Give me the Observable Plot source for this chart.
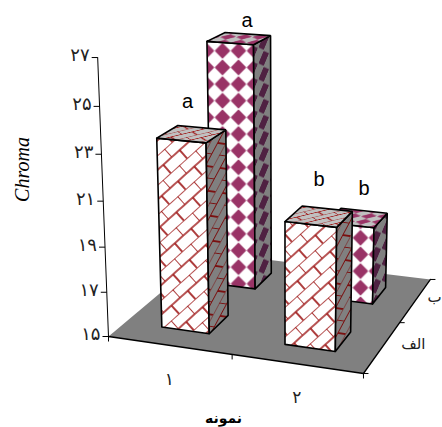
<!DOCTYPE html>
<html>
<head>
<meta charset="utf-8">
<script src="https://cdn.jsdelivr.net/npm/d3@7"></script>
<script src="https://cdn.jsdelivr.net/npm/@observablehq/plot@0.6"></script>
<style>html,body{margin:0;padding:0;background:#fff}svg{display:block}</style>
</head>
<body>
<div id="chart"></div>
<script>
// ---- data ----
const samples = ["۱", "۲"];
const seriesNames = ["الف", "ب"];
const valuesAlef = [23.4, 20.4];
const valuesBe = [26.4, 18.6];
const lettersAlef = ["a", "b"];
const lettersBe = ["a", "b"];
const tickValues = [15, 17, 19, 21, 23, 25, 27];
const tickLabels = ["۱۵", "۱۷", "۱۹", "۲۱", "۲۳", "۲۵", "۲۷"];
const yTitle = "Chroma";
const xTitle = "نمونه";

// ---- view: a perspective camera for the floor and the value axis ----
const base = 15;
const cam = {a: 233.7, b: 134.6, c: 108, d: 15.14, e: -42.1, f: 336, g: -0.0586, h: 0.1664, vx: 285, vy: 4900, k: 0.0048};
function project(u, v, value) {
  const w = value - base;
  const q = 1 + cam.g * u + cam.h * v - cam.k * w;
  return {
    x: (cam.a * u + cam.b * v + cam.c - cam.k * cam.vx * w) / q,
    y: (cam.d * u + cam.e * v + cam.f - cam.k * cam.vy * w) / q
  };
}
const half = 0.098;
const center = i => 0.25 + i * 0.5;
const X = d => d.x, Y = d => d.y;

const poly = pts => { const p = pts.map(a => project(...a)); p.push(p[0]); return p; };
function barFaces(i, j, value, kind, front) {
  const u0 = center(i) - half, u1 = center(i) + half;
  const v0 = center(j) - half, v1 = center(j) + half;
  return [
    {pts: poly([[u0, v0, base], [u1, v0, base], [u1, v0, value], [u0, v0, value]]), fill: `url(#${front})`},
    {pts: poly([[u1, v0, base], [u1, v1, base], [u1, v1, value], [u1, v0, value]]), fill: `url(#${kind}Side)`},
    {pts: poly([[u0, v0, value], [u1, v0, value], [u1, v1, value], [u0, v1, value]]), fill: `url(#${kind}Top)`}
  ];
}
const faceMarks = faces => faces.map(f => Plot.line(f.pts, {x: X, y: Y, fill: f.fill, stroke: "#000", strokeWidth: 1.6, strokeLinejoin: "miter"}));

// floor
const floor = poly([[0, 0, base], [1, 0, base], [1, 1, base], [0, 1, base]]);
const edge = a => a.map(p => project(...p));

// ticks
const yTicks = tickValues.map((t, i) => ({...project(0, 0, t), label: tickLabels[i]}));
const uTicks = [0, 0.5, 1].map(u => project(u, 0, base));
const vTicks = [0, 0.5, 1].map(v => project(1, v, base));

const sampleLabels = samples.map((s, i) => ({...project(center(i), 0, base), label: s}));
const seriesLabels = seriesNames.map((s, j) => ({...project(1, center(j), base), label: s, dx: j ? 19 : 31}));

const letters = [
  {...project(center(0), center(0), valuesAlef[0]), label: lettersAlef[0], dx: -4, dy: -32},
  {...project(center(0), center(1), valuesBe[0]), label: lettersBe[0], dx: 8, dy: -18},
  {...project(center(1), center(0), valuesAlef[1]), label: lettersAlef[1], dx: 0, dy: -37},
  {...project(center(1), center(1), valuesBe[1]), label: lettersBe[1], dx: 7, dy: -29}
];

const axisFont = "'DejaVu Sans'";

const plot = Plot.plot({
  width: 442, height: 427,
  margin: 0,
  style: {background: "#fff", overflow: "hidden"},
  x: {domain: [0, 442], range: [0, 442], axis: null},
  y: {domain: [0, 427], range: [0, 427], axis: null},
  marks: [
    Plot.line(floor, {x: X, y: Y, fill: "#808080", stroke: "none"}),
    Plot.line(edge([[0, 0, base], [1, 0, base], [1, 1, base]]), {x: X, y: Y, stroke: "#000", strokeWidth: 1.3}),
    Plot.line(edge([[0, 0, base], [0, 0, 27]]), {x: X, y: Y, stroke: "#000", strokeWidth: 1}),
    Plot.link(yTicks, {x1: d => d.x - 6, x2: X, y1: Y, y2: Y, stroke: "#000", strokeWidth: 1}),
    Plot.link(uTicks, {x1: X, x2: X, y1: Y, y2: d => d.y + 5, stroke: "#000", strokeWidth: 1}),
    Plot.link(vTicks, {x1: X, x2: d => d.x + 5, y1: Y, y2: Y, stroke: "#000", strokeWidth: 1}),
    // back row, then front row
    ...faceMarks(barFaces(0, 1, valuesBe[0], "diamond", "diamondFrontA")),
    ...faceMarks(barFaces(1, 1, valuesBe[1], "diamond", "diamondFrontB")),
    ...faceMarks(barFaces(0, 0, valuesAlef[0], "brick", "brickFront")),
    ...faceMarks(barFaces(1, 0, valuesAlef[1], "brick", "brickFront")),
    Plot.text(yTicks, {x: d => d.x - 8, y: d => d.y - 2, text: "label", textAnchor: "end", fontSize: 18, fontFamily: axisFont, fill: "#222"}),
    Plot.text(sampleLabels, {x: X, y: d => d.y + 34, text: "label", fontSize: 17, fontFamily: axisFont, fill: "#222"}),
    Plot.text(seriesLabels, {x: d => d.x + d.dx, y: d => d.y - 3, text: "label", fontSize: 15, fontFamily: axisFont, fill: "#222"}),
    Plot.text(letters, {x: d => d.x + d.dx, y: d => d.y + d.dy, text: "label", fontSize: 20, fontFamily: "'Liberation Sans'", fill: "#000"}),
    Plot.text([yTitle], {x: () => 22, y: () => 169, text: d => d, rotate: -90, fontSize: 20, fontStyle: "italic", fontFamily: "'Liberation Serif'", fill: "#000"}),
    Plot.text([xTitle], {x: () => 223, y: () => 418, text: d => d, fontSize: 14, fontWeight: "bold", fontFamily: "'DejaVu Sans'", fill: "#000"})
  ]
});

const brickPath = "M0 0H22M0 11H22M0 0V11M11 11V22";
const brick = (id, bg, stroke, tf) => `<pattern id="${id}" width="22" height="22" patternUnits="userSpaceOnUse" patternTransform="${tf}">
  <rect width="22" height="22" fill="${bg}"/><path d="${brickPath}" fill="none" stroke="${stroke}" stroke-width="1.7"/></pattern>`;
const diamond = (id, bg, col, tf) => `<pattern id="${id}" width="16" height="16" patternUnits="userSpaceOnUse" patternTransform="${tf}">
  <rect width="16" height="16" fill="${bg}"/><path d="M8 1L15 8L8 15L1 8Z" fill="${col}" stroke="${col}" stroke-width="1" stroke-linejoin="round"/></pattern>`;
plot.insertAdjacentHTML("afterbegin", `<defs>
  ${brick("brickFront", "#fff", "#a01c1c", "rotate(-42)")}
  ${brick("brickSide", "#808080", "#7a1010", "skewY(-44) rotate(-42) scale(.75,1)")}
  ${brick("brickTop", "#c0c0c0", "#a01c1c", "skewX(-45) scale(1,.35) rotate(-42)")}
  ${diamond("diamondFrontA", "#fff", "#993366", "translate(214,42) scale(1,1.04)")}
  ${diamond("diamondFrontB", "#fff", "#993366", "translate(352,229) scale(1,1.04)")}
  ${diamond("diamondSide", "#808080", "#4f2142", "skewY(-44) scale(.7,1)")}
  ${diamond("diamondTop", "#c0c0c0", "#993366", "skewX(-45) scale(1,.35)")}
</defs>`);
document.getElementById("chart").appendChild(plot);
</script>
</body>
</html>
